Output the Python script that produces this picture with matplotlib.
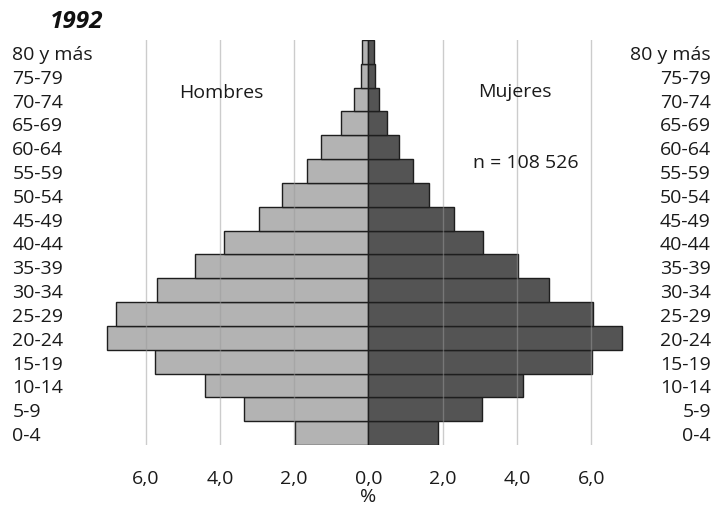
import matplotlib
matplotlib.use("Agg")
import matplotlib.pyplot as plt
import numpy as np

plt.rcParams['font.family'] = ['Open Sans', 'DejaVu Sans']

ages = ['0-4', '5-9', '10-14', '15-19', '20-24', '25-29', '30-34', '35-39',
        '40-44', '45-49', '50-54', '55-59', '60-64', '65-69', '70-74', '75-79',
        '80 y más']
hombres = [1.97, 3.36, 4.39, 5.75, 7.03, 6.80, 5.70, 4.67, 3.89, 2.96, 2.33,
           1.66, 1.28, 0.75, 0.40, 0.20, 0.17]
mujeres = [1.88, 3.06, 4.17, 6.03, 6.82, 6.04, 4.85, 4.03, 3.07, 2.31, 1.63,
           1.21, 0.82, 0.49, 0.29, 0.17, 0.16]
xticks = [-6, -4, -2, 0, 2, 4, 6]
xticklabels = ['6,0', '4,0', '2,0', '0,0', '2,0', '4,0', '6,0']

W, H = 717, 506
FS = 14
TC = '#1a1a1a'
fig = plt.figure(figsize=(W / 100, H / 100), dpi=100)
ax = fig.add_axes([97 / W, (H - 446) / H, (640 - 97) / W, (446 - 41) / H])

y = np.arange(len(ages))
ax.barh(y, [-v for v in hombres], height=1.0, color='#b3b3b3',
        edgecolor='#1e1e1e', linewidth=1.0, zorder=2)
ax.barh(y, mujeres, height=1.0, color='#545454',
        edgecolor='#1e1e1e', linewidth=1.0, zorder=2)

for xv in xticks:
    if xv != 0:
        ax.axvline(xv, color='#9a9a9a', alpha=0.5, linewidth=1.0, zorder=3)

ax.set_xlim(-7.31, 7.31)
ax.set_ylim(-0.5, len(ages) - 0.5)

for s in ax.spines.values():
    s.set_visible(False)

ax.set_xticks(xticks)
ax.set_xticklabels(xticklabels, fontsize=FS, color=TC)
ax.tick_params(axis='x', length=0, pad=17.5)
ax.set_xlabel('%', fontsize=FS, color=TC, labelpad=0)

ax.set_yticks(y)
ax.set_yticklabels(ages, fontsize=FS, color=TC, ha='left')
ax.tick_params(axis='y', length=0, pad=61)

ax2 = ax.twinx()
ax2.set_ylim(ax.get_ylim())
ax2.set_yticks(y)
ax2.set_yticklabels(ages, fontsize=FS, color=TC, ha='right')
ax2.tick_params(axis='y', length=0, pad=51)
for s in ax2.spines.values():
    s.set_visible(False)

ax.text(-3.97, 14.33, 'Hombres', ha='center', va='center', fontsize=FS, color=TC)
ax.text(3.94, 14.37, 'Mujeres', ha='center', va='center', fontsize=FS, color=TC)
ax.text(4.24, 11.375, 'n = 108 526', ha='center', va='center', fontsize=FS, color=TC)

fig.text(50 / W, 1 - 22 / H, '1992', ha='left', va='center', fontsize=17.5,
         fontweight='bold', fontstyle='italic', color='#111111')

fig.savefig('out.png', dpi=100)
